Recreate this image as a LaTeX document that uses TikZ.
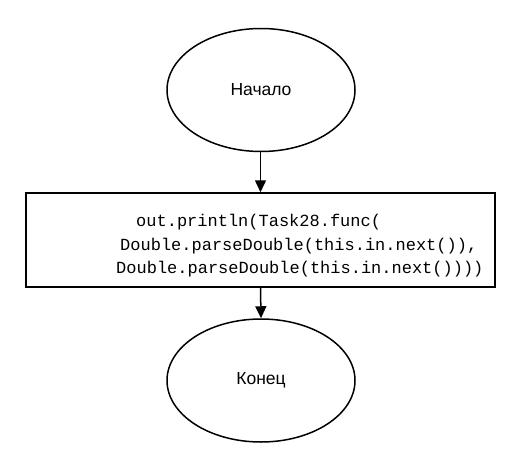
\documentclass[tikz,border=0pt]{standalone}
\usepackage{fontspec}
\setmainfont{Liberation Sans}
\setmonofont{Liberation Mono}
\usetikzlibrary{shapes.geometric,arrows.meta}
\begin{document}
\begin{tikzpicture}[x=1pt,y=-1pt,
  term/.style={draw,line width=1.5pt,ellipse,minimum width=188pt,minimum height=123pt,inner sep=0pt,font=\fontsize{17.5}{20}\selectfont},
  procbox/.style={draw,line width=1.5pt,rectangle,minimum width=469pt,minimum height=94pt,inner sep=0pt},
  flow/.style={line width=1.5pt,-{Triangle[length=12pt,width=11pt]}}]
\useasboundingbox (0,0) rectangle (510,457);
\node[term] (start) at (261,90) {Начало};
\node[procbox] (proc) at (260.5,240) {};
\node[anchor=west,font=\fontsize{17}{23.5}\selectfont\ttfamily,align=left,inner sep=0pt] (code) at (116,246)
  {\hspace*{20pt}out.println(Task28.func(\\
   \hspace*{4pt}Double.parseDouble(this.in.next()),\\
   Double.parseDouble(this.in.next())))};
\node[term] (end) at (261,380.5) {Конец};
\draw[flow] (start.south -| proc.north) -- (proc.north);
\draw[flow] (proc.south) -- (end.north);
\end{tikzpicture}
\end{document}
